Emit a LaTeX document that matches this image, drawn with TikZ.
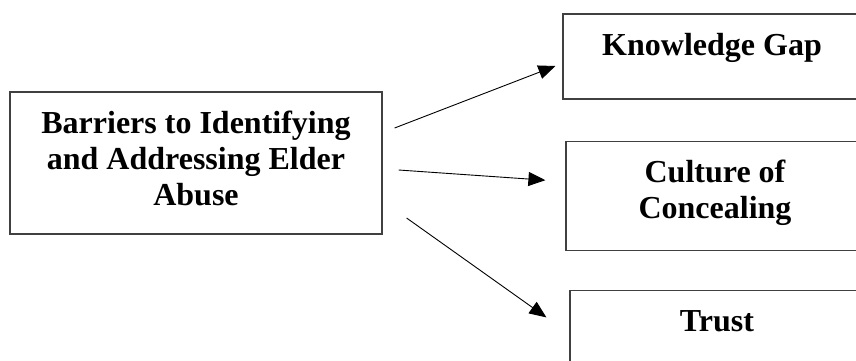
\documentclass[tikz,border=0pt]{standalone}
\usepackage{fontspec}
\setmainfont{Liberation Serif}
\usepackage{tikz}
\usetikzlibrary{positioning,arrows.meta}

\newcommand{\boxtext}[3]{\parbox[c][#2][t]{#1}{\centering\vspace*{15.8pt}\strut #3}}

\begin{document}
\begin{tikzpicture}[x=1pt, y=1pt]
 	\tikzstyle{box}=[rectangle, draw=black!75, line width=1.2pt, inner sep=0pt, font=\fontsize{32}{36}\selectfont\bfseries]
 	\tikzstyle{connect}=[-{Triangle[length=17pt, width=14pt]}, line width=0.9pt]
 	\useasboundingbox (0,0) rectangle (856,360);
 	\clip (0,0) rectangle (856,360);
 	\node[box] (barriers) at (196,197) {\boxtext{372pt}{142pt}{Barriers to Identifying\\ and Addressing Elder\\ Abuse}};
 	\node[box] (know) at (712,303.5) {\boxtext{298pt}{85pt}{Knowledge Gap}};
 		\node[box] (culture) [below=41pt of know, xshift=3pt] {\boxtext{298pt}{109pt}{Culture of\\ Concealing}};
 		\node[box] (trust) [below=39pt of culture, xshift=2pt] {\boxtext{294pt}{85pt}{Trust}};
 	\draw[connect] ([shift={(12,35)}]barriers.east) -- ([shift={(-7,-9.5)}]know.west);
 	\draw[connect] ([shift={(16,-7)}]barriers.east) -- ([shift={(-20,15.5)}]culture.west);
 	\draw[connect] ([shift={(24,-55)}]barriers.east) -- ([shift={(-23,15.5)}]trust.west);
\end{tikzpicture}
\end{document}
